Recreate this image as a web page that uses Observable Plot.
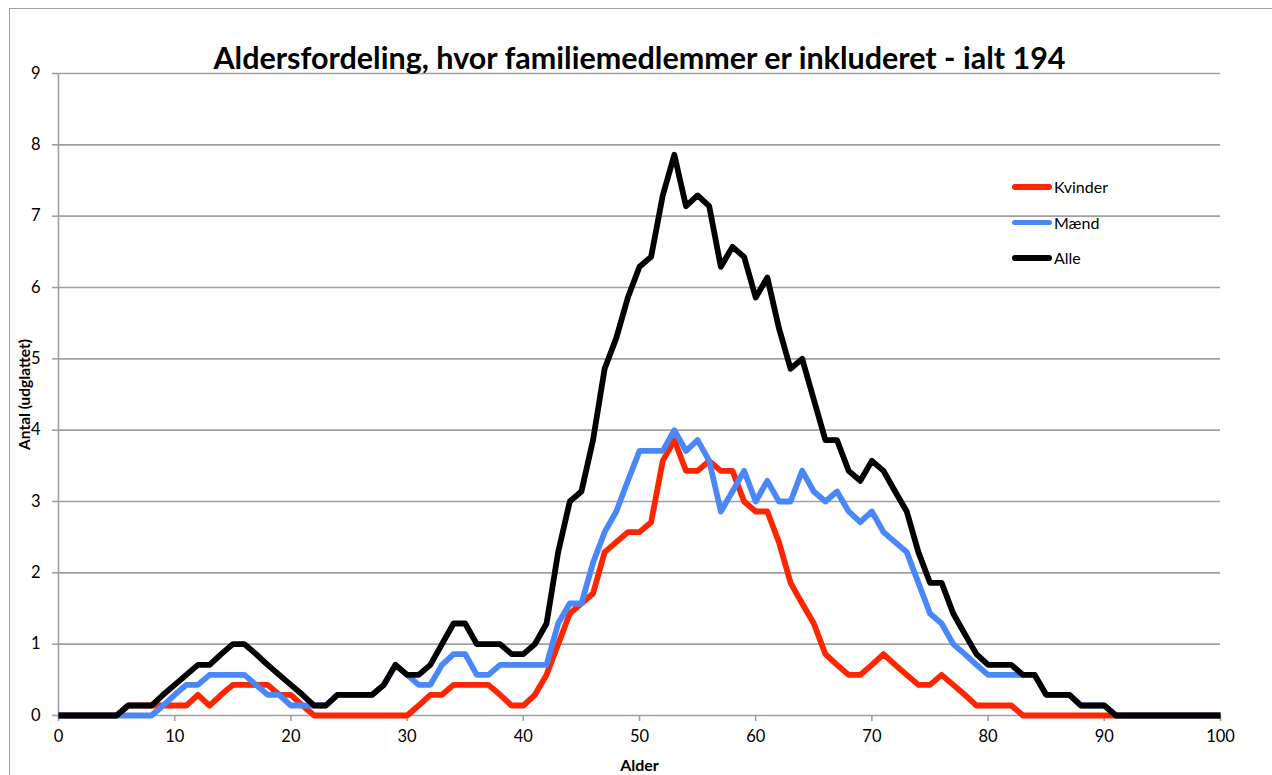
<!DOCTYPE html>
<html>
<head>
<meta charset="utf-8">
<script src="https://cdn.jsdelivr.net/npm/d3@7"></script>
<script src="https://cdn.jsdelivr.net/npm/@observablehq/plot@0.6"></script>
<style>
  html, body { margin: 0; padding: 0; background: #fff; overflow: hidden; }
  #wrap { position: relative; width: 1272px; height: 775px; overflow: hidden; font-family: Lato, "Open Sans", sans-serif; }
  #frame { position: absolute; left: 9px; top: 8px; width: 1400px; height: 900px; border: 1.5px solid #a0a0a0; box-sizing: border-box; }
  #chart { position: absolute; left: 0; top: 0; }
  #legend { position: absolute; left: 1012px; top: 169px; font-size: 16px; color: #000; }
  #legend .item { display: flex; align-items: center; height: 35.5px; }
  #legend .sw { width: 40px; height: 5.5px; border-radius: 3px; margin-right: 2px; }
</style>
</head>
<body>
<div id="wrap">
  <div id="frame"></div>
  <div id="chart"></div>
  <div id="legend"></div>
</div>
<script>
// ---- Data ----
const ages = d3.range(0, 101);
const kvinder = [
  0,0,0,0,0,0,0.14,0.14,0.14,0.14,
  0.14,0.14,0.29,0.14,0.29,0.43,0.43,0.43,0.43,0.29,
  0.29,0.14,0,0,0,0,0,0,0,0,
  0,0.14,0.29,0.29,0.43,0.43,0.43,0.43,0.29,0.14,
  0.14,0.29,0.57,1.0,1.43,1.57,1.71,2.29,2.43,2.57,
  2.57,2.71,3.57,3.86,3.43,3.43,3.57,3.43,3.43,3.0,
  2.86,2.86,2.43,1.86,1.57,1.29,0.86,0.71,0.57,0.57,
  0.71,0.86,0.71,0.57,0.43,0.43,0.57,0.43,0.29,0.14,
  0.14,0.14,0.14,0,0,0,0,0,0,0,
  0,0,0,0,0,0,0,0,0,0,
  0
];
const maend = [
  0,0,0,0,0,0,0,0,0,0.14,
  0.29,0.43,0.43,0.57,0.57,0.57,0.57,0.43,0.29,0.29,
  0.14,0.14,0.14,0.14,0.29,0.29,0.29,0.29,0.43,0.71,
  0.57,0.43,0.43,0.71,0.86,0.86,0.57,0.57,0.71,0.71,
  0.71,0.71,0.71,1.29,1.57,1.57,2.14,2.57,2.86,3.29,
  3.71,3.71,3.71,4.0,3.71,3.86,3.57,2.86,3.14,3.43,
  3.0,3.29,3.0,3.0,3.43,3.14,3.0,3.14,2.86,2.71,
  2.86,2.57,2.43,2.29,1.86,1.43,1.29,1.0,0.86,0.71,
  0.57,0.57,0.57,0.57,0.57,0.29,0.29,0.29,0.14,0.14,
  0.14,0,0,0,0,0,0,0,0,0,
  0
];
const alle = [
  0,0,0,0,0,0,0.14,0.14,0.14,0.29,
  0.43,0.57,0.71,0.71,0.86,1.0,1.0,0.86,0.71,0.57,
  0.43,0.29,0.14,0.14,0.29,0.29,0.29,0.29,0.43,0.71,
  0.57,0.57,0.71,1.0,1.29,1.29,1.0,1.0,1.0,0.86,
  0.86,1.0,1.29,2.29,3.0,3.14,3.86,4.86,5.29,5.86,
  6.29,6.43,7.29,7.86,7.14,7.29,7.14,6.29,6.57,6.43,
  5.86,6.14,5.43,4.86,5.0,4.43,3.86,3.86,3.43,3.29,
  3.57,3.43,3.14,2.86,2.29,1.86,1.86,1.43,1.14,0.86,
  0.71,0.71,0.71,0.57,0.57,0.29,0.29,0.29,0.14,0.14,
  0.14,0,0,0,0,0,0,0,0,0,
  0
];
const seriesNames = ["Kvinder", "Mænd", "Alle"];
const seriesColors = ["#ff2500", "#4a87f8", "#000000"];
const xTicks = [0, 10, 20, 30, 40, 50, 60, 70, 80, 90, 100];
const yTicks = [0, 1, 2, 3, 4, 5, 6, 7, 8, 9];
const title = "Aldersfordeling, hvor familiemedlemmer er inkluderet - ialt 194";
const xLabel = "Alder";
const yLabel = "Antal (udglattet)";

// ---- Table ----
const seriesValues = [kvinder, maend, alle];
const rows = [];
seriesNames.forEach((name, s) => {
  ages.forEach((a, i) => rows.push({series: name, age: a, value: seriesValues[s][i]}));
});

const chart = Plot.plot({
  width: 1272,
  height: 775,
  marginLeft: 58,
  marginRight: 52,
  marginTop: 73,
  marginBottom: 60,
  style: {fontFamily: "Lato, 'Open Sans', sans-serif", fontSize: "16px", color: "#000", background: "transparent", overflow: "visible"},
  x: {domain: [0, 100]},
  y: {domain: [0, 9]},
  color: {domain: seriesNames, range: seriesColors},
  marks: [
    Plot.gridY(yTicks, {stroke: "#a0a0a0", strokeOpacity: 1, strokeWidth: 1.6}),
    Plot.ruleX([0], {y1: 0, y2: 9, stroke: "#a0a0a0", strokeWidth: 1.6}),
    Plot.axisY({ticks: yTicks, tickSize: 6, tickPadding: 12, stroke: "#a0a0a0", strokeWidth: 1.6, fill: "#000", label: null, fontSize: 16.5}),
    Plot.axisX({ticks: xTicks, tickSize: 6, tickPadding: 9, stroke: "#a0a0a0", strokeWidth: 1.6, fill: "#000", label: null, fontSize: 16.5}),
    Plot.line(rows, {x: "age", y: "value", z: "series", stroke: "series", strokeWidth: 5.8, strokeLinejoin: "round", strokeLinecap: "butt"}),
    Plot.text([title], {frameAnchor: "top", dy: -26, fontSize: 30.5, fontWeight: "bold", fill: "#000"}),
    Plot.text([xLabel], {frameAnchor: "bottom", lineAnchor: "middle", dy: 50, fontSize: 16, fontWeight: "bold", fill: "#000"}),
    Plot.text([yLabel], {frameAnchor: "left", textAnchor: "middle", lineAnchor: "middle", rotate: -90, dx: -33, fontSize: 15.5, fontWeight: "bold", fill: "#000"})
  ]
});
document.getElementById("chart").appendChild(chart);

// ---- Legend ----
const legend = document.getElementById("legend");
seriesNames.forEach((name, i) => {
  const item = document.createElement("div");
  item.className = "item";
  const sw = document.createElement("span");
  sw.className = "sw";
  sw.style.background = seriesColors[i];
  const t = document.createElement("span");
  t.textContent = name;
  item.appendChild(sw);
  item.appendChild(t);
  legend.appendChild(item);
});
</script>
</body>
</html>
